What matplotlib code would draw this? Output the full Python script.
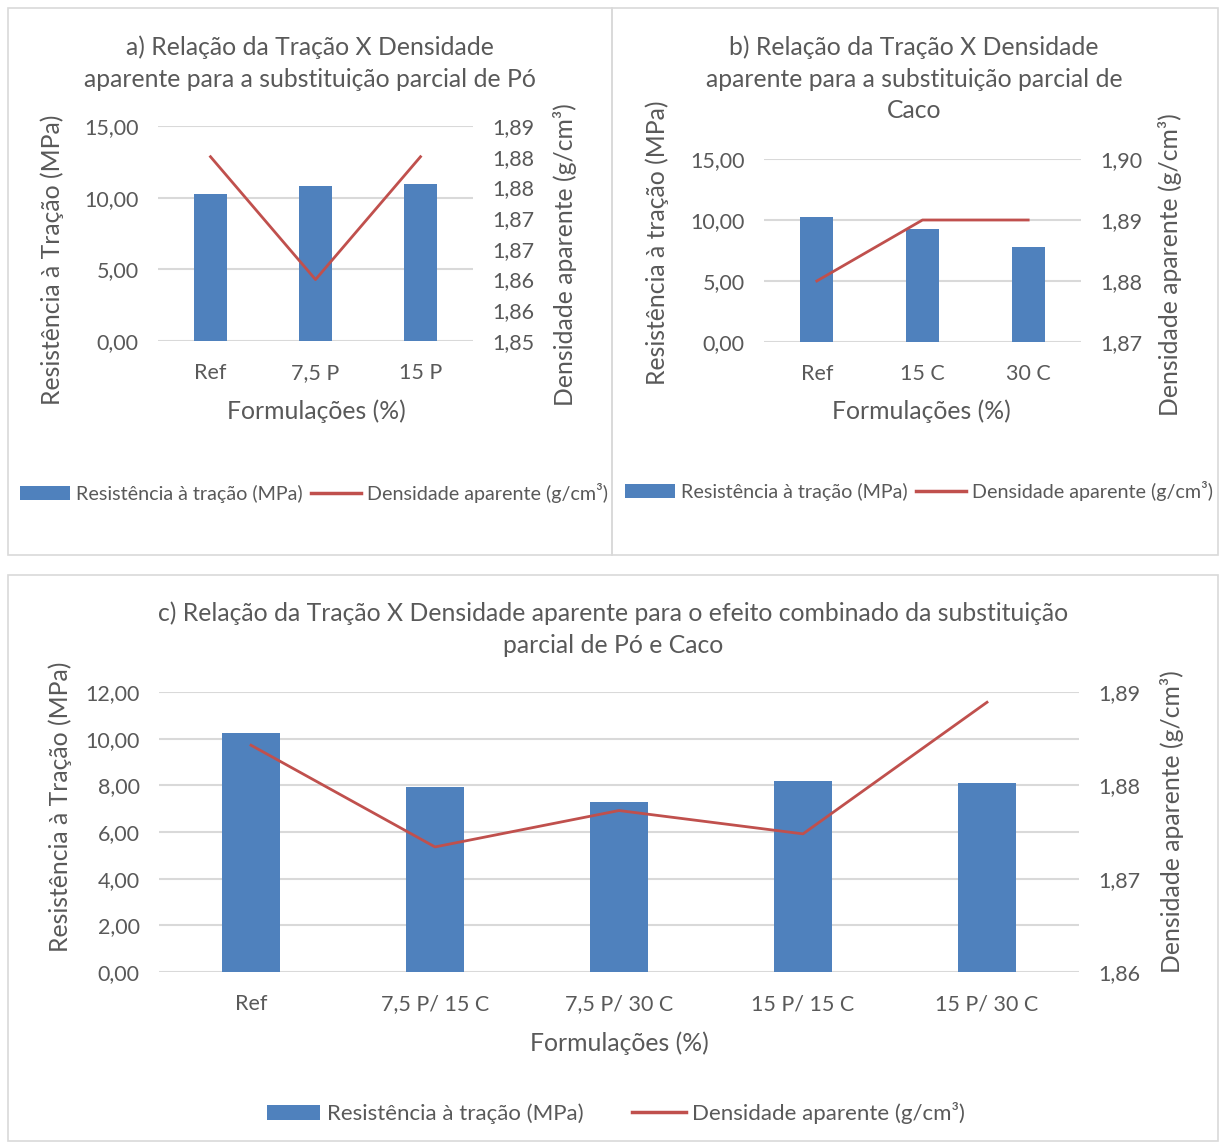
import matplotlib
matplotlib.use("Agg")
import matplotlib.pyplot as plt
from matplotlib.patches import Rectangle, Patch
from matplotlib.lines import Line2D

plt.rcParams['font.family'] = ['Lato', 'DejaVu Sans']

# ---------------- data ----------------
cats_a = ["Ref", "7,5 P", "15 P"]
tracao_a = [10.25, 10.80, 10.95]
dens_a = [1.880, 1.860, 1.880]

cats_b = ["Ref", "15 C", "30 C"]
tracao_b = [10.25, 9.30, 7.75]
dens_b = [1.880, 1.890, 1.890]

cats_c = ["Ref", "7,5 P/ 15 C", "7,5 P/ 30 C", "15 P/ 15 C", "15 P/ 30 C"]
tracao_c = [10.25, 7.95, 7.30, 8.20, 8.10]
dens_c = [1.8843, 1.8734, 1.8773, 1.8748, 1.8889]

left_ticks_ab = [0, 5, 10, 15]
left_labels_ab = ["0,00", "5,00", "10,00", "15,00"]
right_ticks_a = [1.850, 1.855, 1.860, 1.865, 1.870, 1.875, 1.880, 1.885]
right_labels_a = ["1,85", "1,86", "1,86", "1,87", "1,87", "1,88", "1,88", "1,89"]
right_ticks_b = [1.87, 1.88, 1.89, 1.90]
right_labels_b = ["1,87", "1,88", "1,89", "1,90"]
left_ticks_c = [0, 2, 4, 6, 8, 10, 12]
left_labels_c = ["0,00", "2,00", "4,00", "6,00", "8,00", "10,00", "12,00"]
right_ticks_c = [1.86, 1.87, 1.88, 1.89]
right_labels_c = ["1,86", "1,87", "1,88", "1,89"]

title_a = "a) Relação da Tração X Densidade\naparente para a substituição parcial de Pó"
title_b = "b) Relação da Tração X Densidade\naparente para a substituição parcial de\nCaco"
title_c = "c) Relação da Tração X Densidade aparente para o efeito combinado da substituição\nparcial de Pó e Caco"
ylab_left_a = "Resistência à Tração (MPa)"
ylab_left_b = "Resistência à tração (MPa)"
ylab_right = "Densidade aparente (g/cm³)"
xlab = "Formulações (%)"
leg_bar = "Resistência à tração (MPa)"
leg_line = "Densidade aparente (g/cm³)"

# ---------------- style ----------------
W, H = 1229, 1144
BAR = "#4F81BD"
LINE = "#C0504D"
GRID = "#D9D9D9"
TXT = "#595959"
FS_TICK = 15.5
FS_LAB = 17.8

fig = plt.figure(figsize=(W / 100, H / 100), dpi=100)
fig.patch.set_facecolor("white")


def rect(x0, y0, x1, y1):
    return [x0 / W, 1 - y1 / H, (x1 - x0) / W, (y1 - y0) / H]


def fx(x):
    return x / W


def fy(y):
    return 1 - y / H


# panel borders
for (x0, y0, x1, y1) in [(8, 8, 612, 555), (612, 8, 1218, 555), (8, 575, 1218, 1141)]:
    fig.add_artist(Rectangle((fx(x0), fy(y1)), (x1 - x0) / W, (y1 - y0) / H,
                             transform=fig.transFigure, fill=False,
                             edgecolor=GRID, linewidth=1.2))


def panel(box, cats, tr, dens, lt, ll, lylim, rt, rl, rylim):
    ax = fig.add_axes(rect(*box))
    x = list(range(len(cats)))
    ax.bar(x, tr, width=0.31, color=BAR, zorder=2)
    ax.set_xlim(-0.5, len(cats) - 0.5)
    ax.set_ylim(*lylim)
    ax.set_yticks(lt)
    ax.set_yticklabels(ll)
    ax.set_xticks(x)
    ax.set_xticklabels(cats)
    ax.yaxis.grid(True, color=GRID, linewidth=1.5, zorder=0)
    ax.set_axisbelow(True)
    for s in ax.spines.values():
        s.set_visible(False)
    ax.tick_params(axis="both", length=0, labelsize=FS_TICK, colors=TXT)
    ax.tick_params(axis="y", pad=14)
    ax.tick_params(axis="x", pad=16)
    ax2 = ax.twinx()
    ax2.plot(x, dens, color=LINE, linewidth=2.0, zorder=3)
    ax2.set_ylim(*rylim)
    ax2.set_yticks(rt)
    ax2.set_yticklabels(rl)
    for s in ax2.spines.values():
        s.set_visible(False)
    ax2.tick_params(axis="y", length=0, labelsize=FS_TICK, colors=TXT, pad=14)
    return ax, ax2


panel((158, 126, 473, 341), cats_a, tracao_a, dens_a, left_ticks_ab, left_labels_ab,
      (0, 15), right_ticks_a, right_labels_a, (1.85, 1.885))
panel((764, 159, 1081, 342), cats_b, tracao_b, dens_b, left_ticks_ab, left_labels_ab,
      (0, 15), right_ticks_b, right_labels_b, (1.87, 1.90))
panel((159, 692, 1079, 972), cats_c, tracao_c, dens_c, left_ticks_c, left_labels_c,
      (0, 12), right_ticks_c, right_labels_c, (1.86, 1.89))

# titles
fig.text(fx(310), fy(63), title_a, ha="center", va="center", fontsize=FS_LAB,
         color=TXT, linespacing=1.45)
fig.text(fx(914), fy(79), title_b, ha="center", va="center", fontsize=FS_LAB,
         color=TXT, linespacing=1.45)
fig.text(fx(613), fy(629), title_c, ha="center", va="center", fontsize=FS_LAB,
         color=TXT, linespacing=1.45)

# axis labels
fig.text(fx(52), fy(260), ylab_left_a, rotation=90, ha="center", va="center",
         fontsize=FS_LAB, color=TXT)
fig.text(fx(565), fy(255), ylab_right, rotation=90, ha="center", va="center",
         fontsize=FS_LAB, color=TXT)
fig.text(fx(316), fy(411), xlab, ha="center", va="center", fontsize=FS_LAB, color=TXT)

fig.text(fx(657), fy(243), ylab_left_b, rotation=90, ha="center", va="center",
         fontsize=FS_LAB, color=TXT)
fig.text(fx(1170), fy(265), ylab_right, rotation=90, ha="center", va="center",
         fontsize=FS_LAB, color=TXT)
fig.text(fx(921), fy(411), xlab, ha="center", va="center", fontsize=FS_LAB, color=TXT)

fig.text(fx(60), fy(807), ylab_left_a, rotation=90, ha="center", va="center",
         fontsize=FS_LAB, color=TXT)
fig.text(fx(1172), fy(822), ylab_right, rotation=90, ha="center", va="center",
         fontsize=FS_LAB, color=TXT)
fig.text(fx(619), fy(1043), xlab, ha="center", va="center", fontsize=FS_LAB, color=TXT)

# legends
handles = [Patch(facecolor=BAR, edgecolor="none"),
           Line2D([0], [0], color=LINE, linewidth=2.5)]
labels = [leg_bar, leg_line]
for cx, cy, fs, hl, cs in [(314, 493, 14.2, 2.55, 0.4), (919, 491, 14.2, 2.55, 0.4),
                           (616, 1113, 16, 2.4, 2.2)]:
    fig.legend(handles, labels, loc="center", bbox_to_anchor=(fx(cx), fy(cy)),
               ncol=2, frameon=False, fontsize=fs, handlelength=hl,
               handleheight=0.65, handletextpad=0.3, columnspacing=cs,
               labelcolor=TXT, borderpad=0, borderaxespad=0)

fig.savefig("out.png", dpi=100, facecolor="white")
